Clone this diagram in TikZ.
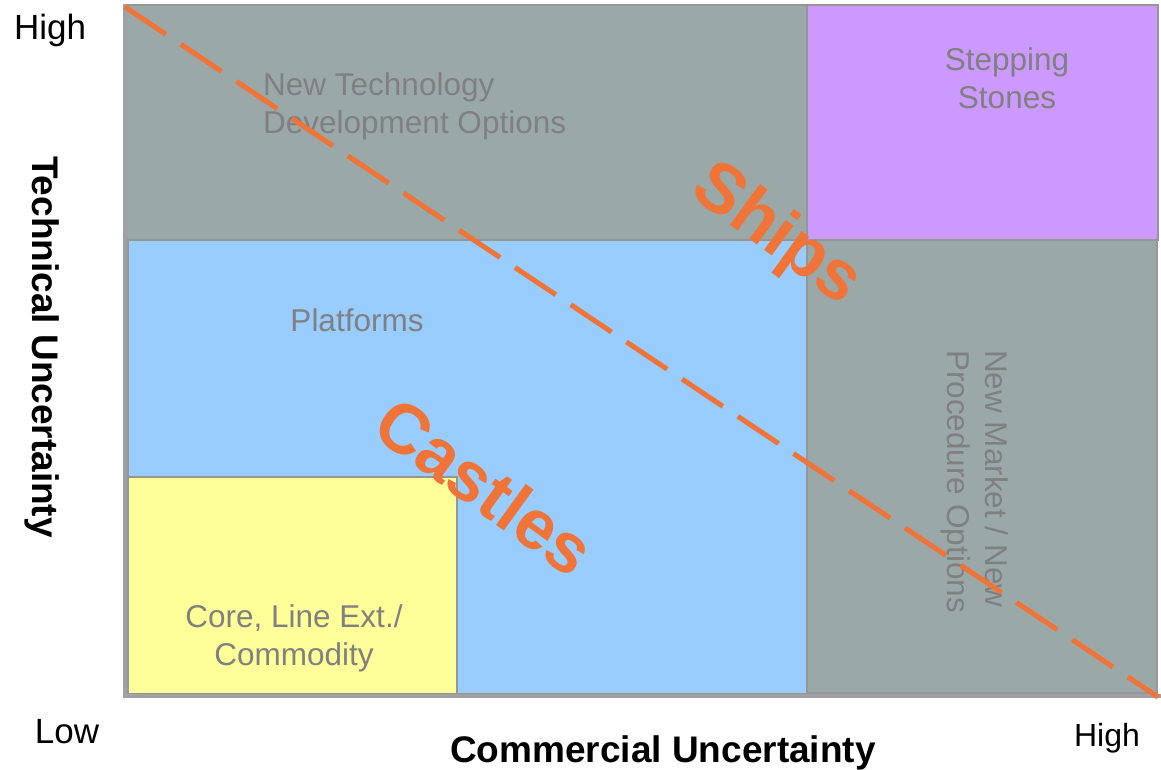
\documentclass[tikz,border=0pt]{standalone}
\usepackage{fontspec}
\setmainfont{Liberation Sans}
\begin{document}
\definecolor{zonegray}{RGB}{155,168,168}
\definecolor{zoneblue}{RGB}{153,204,255}
\definecolor{zonepurple}{RGB}{204,153,255}
\definecolor{zoneyellow}{RGB}{255,255,153}
\definecolor{edgegray}{RGB}{150,150,150}
\definecolor{axisgray}{RGB}{160,160,165}
\definecolor{labelgray}{RGB}{128,128,128}
\definecolor{divider}{RGB}{240,115,55}
\begin{tikzpicture}[x=1pt,y=-1pt,
  zone/.style={draw=edgegray,line width=1.5pt},
  zonelabel/.style={inner sep=0pt,text=labelgray,font=\fontsize{31.5}{38}\selectfont},
  axislabel/.style={inner sep=0pt,text=black,font=\bfseries\fontsize{37}{44}\selectfont},
  endlabel/.style={inner sep=0pt,text=black},
  biglabel/.style={inner sep=0pt,text=divider,font=\bfseries\fontsize{70}{78}\selectfont,rotate=-36},
  axisline/.style={draw=axisgray,line width=4.5pt},
  dividerline/.style={draw=divider,line width=5pt,dash pattern=on 49pt off 18pt}]
  \useasboundingbox (0,0) rectangle (1161,770);

  % portfolio zones
  \path[zone,fill=zonegray]   (126,5)   rectangle (807,240);
  \path[zone,fill=zonepurple] (807,5)   rectangle (1158,240);
  \path[zone,fill=zonegray]   (807,240) rectangle (1157,693);
  \path[zone,fill=zoneblue]   (128,240) rectangle (807,694);
  \path[zone,fill=zoneyellow] (128,477) rectangle (457,694);

  % axes
  \coordinate (origin) at (125,696);
  \coordinate (ytop) at (125,4);
  \coordinate (xend) at (1161,696);
  \draw[axisline] (ytop) -- (origin) -- (xend);

  % zone labels (multi-line nodes sit on the baseline of their last line)
  \node[zonelabel,align=left,anchor=base west] (newtech) at (263,134)
    {New Technology\\Development Options};
  \node[zonelabel,align=center,anchor=base] (stepping) at (1007,109)
    {Stepping\\Stones};
  \node[zonelabel,anchor=base] (platforms) at (357,331) {Platforms};
  \node[zonelabel,align=center,anchor=base] (core) at (294,665)
    {Core, Line Ext./\\Commodity};
  \node[zonelabel,align=left,anchor=base west,rotate=-90] (newmarket) at (947,350)
    {New Market / New\\Procedure Options};

  % axis labels
  \node[axislabel,anchor=base,rotate=-90] (techaxis) at (32,347) {Technical Uncertainty};
  \node[axislabel,anchor=base] (commaxis) at (663,762) {Commercial Uncertainty};
  \node[endlabel,anchor=base,font=\fontsize{35}{40}\selectfont] (yhigh) at (50,40) {High};
  \node[endlabel,anchor=base,font=\fontsize{35}{40}\selectfont] (xlow) at (67,743) {Low};
  \node[endlabel,anchor=base,font=\fontsize{32}{38}\selectfont] (xhigh) at (1107,746) {High};

  % dividing line between castles and ships
  \coordinate (divstart) at (125,7);
  \coordinate (divend) at (1158,697);
  \draw[dividerline] (divstart) -- (divend);

  \node[biglabel] (ships) at (776,236) {Ships};
  \node[biglabel] (castles) at (485,486) {Castles};
\end{tikzpicture}
\end{document}
